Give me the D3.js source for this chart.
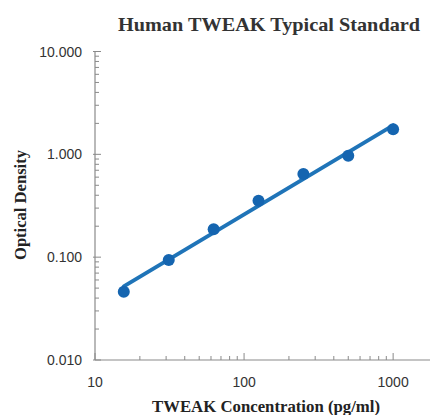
<!DOCTYPE html>
<html><head><meta charset="utf-8">
<script src="https://cdn.jsdelivr.net/npm/d3@7"></script>
<style>body{margin:0;background:#fff}</style>
</head><body>
<svg id="c" width="430" height="415"></svg>
<script>
const concentrations = [15.6, 31.25, 62.5, 125, 250, 500, 1000];
const odValues = [0.046, 0.094, 0.187, 0.354, 0.643, 0.97, 1.75];
const yTickValues = [0.01, 0.1, 1, 10];
const xTickValues = [10, 100, 1000];

const svg = d3.select("#c");
const x = d3.scaleLog().domain([10, 2000]).range([95, 438]);
const y = d3.scaleLog().domain([0.01, 10]).range([360, 51.5]);

const axisColor = "#8a8a8a";
const serif = "'Liberation Serif','Times New Roman',serif";
const sans = "'Liberation Sans',Arial,sans-serif";

// x axis line and ticks
const gx = svg.append("g");
gx.append("line").attr("x1", 95).attr("x2", 430).attr("y1", 360).attr("y2", 360)
  .attr("stroke", axisColor).attr("stroke-width", 1.2);
const xMinor = [];
[10, 100, 1000].forEach(d => { for (let k = 2; k <= 9; k++) if (d*k <= 2000) xMinor.push(d*k); });
gx.selectAll(".xm").data(xMinor).enter().append("line")
  .attr("x1", d => x(d)).attr("x2", d => x(d)).attr("y1", 360).attr("y2", 356)
  .attr("stroke", axisColor);
gx.selectAll(".xM").data(xTickValues).enter().append("line")
  .attr("x1", d => x(d)).attr("x2", d => x(d)).attr("y1", 360).attr("y2", 353)
  .attr("stroke", axisColor);
gx.selectAll(".xl").data(xTickValues).enter().append("text")
  .attr("x", d => x(d)).attr("y", 387).attr("text-anchor", "middle")
  .attr("font-family", sans).attr("font-size", 14).attr("fill", "#333")
  .text(d => d);

// y axis
const gy = svg.append("g");
gy.append("line").attr("x1", 95).attr("x2", 95).attr("y1", y(10)).attr("y2", 360)
  .attr("stroke", axisColor).attr("stroke-width", 1.2);
const yMinor = [];
[0.01, 0.1, 1].forEach(d => { for (let k = 2; k <= 9; k++) yMinor.push(d*k); });
gy.selectAll(".ym").data(yMinor).enter().append("line")
  .attr("x1", 95).attr("x2", 99).attr("y1", d => y(d)).attr("y2", d => y(d))
  .attr("stroke", axisColor);
gy.selectAll(".yM").data(yTickValues).enter().append("line")
  .attr("x1", 93).attr("x2", 101).attr("y1", d => y(d)).attr("y2", d => y(d))
  .attr("stroke", axisColor);
gy.selectAll(".yl").data(yTickValues).enter().append("text")
  .attr("x", 82).attr("y", d => y(d) + 5).attr("text-anchor", "end")
  .attr("font-family", sans).attr("font-size", 14).attr("fill", "#333")
  .text(d => d3.format(".3f")(d));

// regression fit on log-log
const lx = concentrations.map(Math.log10), ly = odValues.map(Math.log10);
const mx = d3.mean(lx), my = d3.mean(ly);
const slope = d3.sum(lx.map((v,i) => (v-mx)*(ly[i]-my))) / d3.sum(lx.map(v => (v-mx)**2));
const icpt = my - slope*mx;
const fit = [concentrations[0], concentrations[concentrations.length-1]]
  .map(c => [c, Math.pow(10, icpt + slope*Math.log10(c))]);
svg.append("path")
  .attr("d", d3.line().x(d => x(d[0])).y(d => y(d[1]))(fit))
  .attr("stroke", "#1f74b8").attr("stroke-width", 4).attr("fill", "none")
  .attr("stroke-linecap", "round");

svg.selectAll(".pt").data(concentrations).enter().append("circle")
  .attr("cx", d => x(d)).attr("cy", (d,i) => y(odValues[i])).attr("r", 6)
  .attr("fill", "#1565b0");

// titles
svg.append("text").attr("x", 269).attr("y", 31).attr("text-anchor", "middle")
  .attr("font-family", serif).attr("font-weight", "bold").attr("font-size", 19)
  .attr("textLength", 302).attr("lengthAdjust", "spacingAndGlyphs")
  .attr("fill", "#333").text("Human TWEAK Typical Standard");
svg.append("text").attr("x", 266).attr("y", 412).attr("text-anchor", "middle")
  .attr("font-family", serif).attr("font-weight", "bold").attr("font-size", 16)
  .attr("textLength", 228).attr("lengthAdjust", "spacingAndGlyphs")
  .attr("fill", "#222").text("TWEAK Concentration (pg/ml)");
svg.append("text").attr("transform", "translate(26,205) rotate(-90)").attr("text-anchor", "middle")
  .attr("font-family", serif).attr("font-weight", "bold").attr("font-size", 16)
  .attr("textLength", 110).attr("lengthAdjust", "spacingAndGlyphs")
  .attr("fill", "#222").text("Optical Density");
</script>
</body></html>
